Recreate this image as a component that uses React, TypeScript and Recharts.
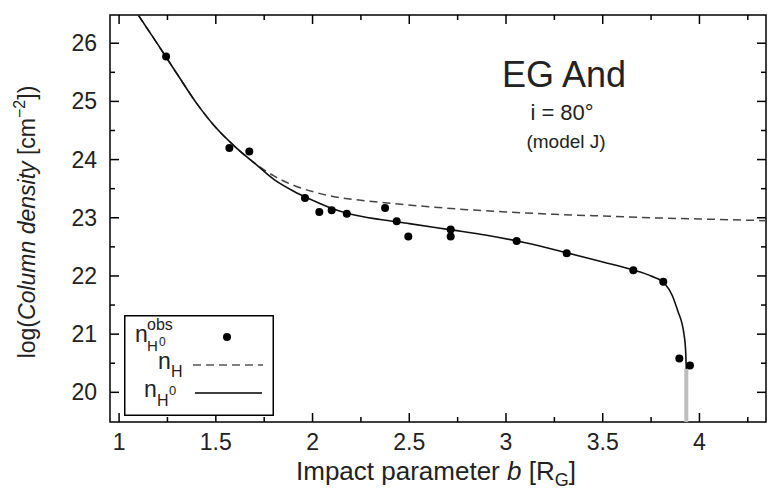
import { ComposedChart, Line, Scatter, XAxis, YAxis, ReferenceArea, Legend } from 'recharts';

// observed column densities (log nH0)
const obsB = [1.243, 1.570, 1.673, 1.961, 2.035, 2.099, 2.177, 2.375, 2.435, 2.495, 2.714, 2.714, 3.055, 3.314, 3.658, 3.813, 3.896, 3.951];
const obsLogN = [25.77, 24.20, 24.14, 23.34, 23.10, 23.13, 23.07, 23.17, 22.94, 22.68, 22.80, 22.68, 22.60, 22.39, 22.10, 21.90, 20.58, 20.46];

// model nH (dashed)
const hB = [1.10, 1.20, 1.30, 1.40, 1.50, 1.60, 1.70, 1.80, 1.90, 2.00, 2.10, 2.25, 2.40, 2.60, 2.80, 3.00, 3.25, 3.50, 3.75, 4.00, 4.344];
const hLogN = [26.48, 25.98, 25.47, 24.97, 24.55, 24.22, 23.94, 23.72, 23.56, 23.45, 23.37, 23.30, 23.25, 23.19, 23.14, 23.10, 23.06, 23.03, 23.00, 22.98, 22.95];

// model nH0 (solid)
const h0B = [1.10, 1.20, 1.30, 1.40, 1.50, 1.60, 1.70, 1.80, 1.90, 2.00, 2.10, 2.20, 2.35, 2.50, 2.70, 2.90, 3.10, 3.30, 3.50, 3.65, 3.75, 3.82, 3.86, 3.89, 3.91, 3.92, 3.928, 3.932];
const h0LogN = [26.48, 25.98, 25.47, 24.97, 24.55, 24.22, 23.94, 23.66, 23.46, 23.30, 23.16, 23.06, 22.97, 22.90, 22.80, 22.70, 22.57, 22.41, 22.24, 22.11, 22.00, 21.87, 21.66, 21.38, 21.18, 21.00, 20.75, 20.40];

// gray drop where nH0 vanishes
const cutB = [3.932, 3.932];
const cutLogN = [20.40, 19.49];

const xTicks = [1, 1.25, 1.5, 1.75, 2, 2.25, 2.5, 2.75, 3, 3.25, 3.5, 3.75, 4, 4.25];
const yTicks = [20, 20.5, 21, 21.5, 22, 22.5, 23, 23.5, 24, 24.5, 25, 25.5, 26];
const xDomain = [0.953, 4.344];
const yDomain = [19.49, 26.485];

const FONT = '"Liberation Sans", Arial, Helvetica, sans-serif';
const W = 776;
const H = 491;
const PLOT_LEFT = 110;
const PLOT_RIGHT = 766;
const PLOT_TOP = 15;
const PLOT_BOTTOM = 422;

const toRows = (xs: number[], ys: number[]) => xs.map((b, i) => ({ b, logN: ys[i] }));
const obsData = toRows(obsB, obsLogN);
const hData = toRows(hB, hLogN);
const h0Data = toRows(h0B, h0LogN);
const cutData = toRows(cutB, cutLogN);

const XTick = (props: any) => {
  const { x, payload } = props;
  const v = payload.value;
  const major = Math.abs(v * 2 - Math.round(v * 2)) < 1e-6;
  const len = major ? 9 : 5;
  return (
    <g>
      <line x1={x} x2={x} y1={PLOT_BOTTOM} y2={PLOT_BOTTOM - len} stroke="#000" strokeWidth={1.5} />
      <line x1={x} x2={x} y1={PLOT_TOP} y2={PLOT_TOP + len} stroke="#000" strokeWidth={1.5} />
      {major && (
        <text x={x} y={450} textAnchor="middle" fontSize={23} fontFamily={FONT} fill="#222">{String(v)}</text>
      )}
    </g>
  );
};

const YTick = (props: any) => {
  const { y, payload } = props;
  const v = payload.value;
  const major = Math.abs(v - Math.round(v)) < 1e-6;
  const len = major ? 9 : 5;
  return (
    <g>
      <line x1={PLOT_LEFT} x2={PLOT_LEFT + len} y1={y} y2={y} stroke="#000" strokeWidth={1.5} />
      <line x1={PLOT_RIGHT} x2={PLOT_RIGHT - len} y1={y} y2={y} stroke="#000" strokeWidth={1.5} />
      {major && (
        <text x={97} y={y + 8} textAnchor="end" fontSize={23} fontFamily={FONT} fill="#222">{String(v)}</text>
      )}
    </g>
  );
};

const Dot = (props: any) => <circle cx={props.cx} cy={props.cy} r={4} fill="#000" />;

const LegendBox = (props: any) => {
  const items = (props.payload || []).filter((p: any) => p.type !== 'none');
  const t = { fontFamily: FONT, fill: '#222' };
  const rowY: Record<string, number> = { obs: 22, nH: 50, nH0: 78 };
  return (
    <svg width={150} height={101} style={{ display: 'block' }}>
      <rect x={0.75} y={0.75} width={148.5} height={99.5} fill="#fff" stroke="#000" strokeWidth={1.5} />
      {items.map((it: any) => {
        const key = it.value as string;
        const cy = rowY[key];
        if (key === 'obs') {
          return (
            <g key={key}>
              <text x={11} y={cy + 5} fontSize={23} {...t}>n</text>
              <text x={23} y={cy + 14} fontSize={15} {...t}>H</text>
              <text x={35} y={cy + 9} fontSize={12} {...t}>0</text>
              <text x={23} y={cy - 7} fontSize={16} {...t}>obs</text>
              <circle cx={103} cy={cy} r={4} fill="#000" />
            </g>
          );
        }
        if (key === 'nH') {
          return (
            <g key={key}>
              <text x={34} y={cy + 4} fontSize={23} {...t}>n</text>
              <text x={47} y={cy + 12} fontSize={16} {...t}>H</text>
              <line x1={69} x2={139} y1={cy} y2={cy} stroke="#555" strokeWidth={1.5} strokeDasharray="8 5" />
            </g>
          );
        }
        return (
          <g key={key}>
            <text x={20} y={cy + 4} fontSize={23} {...t}>n</text>
            <text x={33} y={cy + 13} fontSize={16} {...t}>H</text>
            <text x={45} y={cy + 2} fontSize={13} {...t}>0</text>
            <line x1={71} x2={138} y1={cy} y2={cy} stroke="#000" strokeWidth={1.5} />
          </g>
        );
      })}
    </svg>
  );
};

export default function App() {
  return (
    <div style={{ position: 'absolute', left: 0, top: 0, width: W, height: H, background: '#fff' }}>
      <ComposedChart width={W} height={H} margin={{ top: PLOT_TOP, right: W - PLOT_RIGHT, bottom: 0, left: 0 }}>
        <XAxis
          type="number"
          dataKey="b"
          domain={xDomain}
          ticks={xTicks}
          allowDataOverflow
          axisLine={false}
          tickLine={false}
          height={H - PLOT_BOTTOM}
          tick={<XTick />}
          interval={0}
        />
        <YAxis
          type="number"
          dataKey="logN"
          domain={yDomain}
          ticks={yTicks}
          allowDataOverflow
          axisLine={false}
          tickLine={false}
          width={PLOT_LEFT}
          tick={<YTick />}
          interval={0}
        />
        <ReferenceArea x1={xDomain[0]} x2={xDomain[1]} y1={yDomain[0]} y2={yDomain[1]} fill="none" stroke="#000" strokeWidth={1.5} fillOpacity={0} />
        <Line data={cutData} dataKey="logN" type="linear" stroke="#bdbdbd" strokeWidth={4} dot={false} legendType="none" isAnimationActive={false} />
        <Line data={hData} dataKey="logN" name="nH" type="monotone" stroke="#444" strokeWidth={1.5} strokeDasharray="8 5" dot={false} isAnimationActive={false} />
        <Line data={h0Data} dataKey="logN" name="nH0" type="monotone" stroke="#111" strokeWidth={1.6} dot={false} isAnimationActive={false} />
        <Scatter data={obsData} dataKey="logN" name="obs" shape={<Dot />} isAnimationActive={false} />
        <Legend
          layout="vertical"
          align="center"
          verticalAlign="middle"
          content={<LegendBox />}
          wrapperStyle={{ position: 'absolute', left: 124, top: 315, width: 150, height: 101 }}
        />
      </ComposedChart>
      <svg width={W} height={H} style={{ position: 'absolute', left: 0, top: 0, pointerEvents: 'none' }}>
        <text x={564} y={87} textAnchor="middle" fontSize={36} fontFamily={FONT} fill="#222">EG And</text>
        <text x={562} y={120} textAnchor="middle" fontSize={22} fontFamily={FONT} fill="#222">i = 80°</text>
        <text x={566} y={148} textAnchor="middle" fontSize={19} fontFamily={FONT} fill="#222">(model J)</text>
        <text x={436} y={480} textAnchor="middle" fontSize={26} fontFamily={FONT} fill="#222">
          Impact parameter <tspan fontStyle="italic">b</tspan> [R<tspan fontSize={18} dy={6}>G</tspan><tspan dy={-6}>]</tspan>
        </text>
        <text transform="translate(35, 222) rotate(-90)" textAnchor="middle" fontSize={23} fontFamily={FONT} fill="#222">
          log(<tspan fontStyle="italic">Column density</tspan> [cm<tspan fontSize={16} dy={-10}>−2</tspan><tspan dy={10}>])</tspan>
        </text>
      </svg>
    </div>
  );
}
